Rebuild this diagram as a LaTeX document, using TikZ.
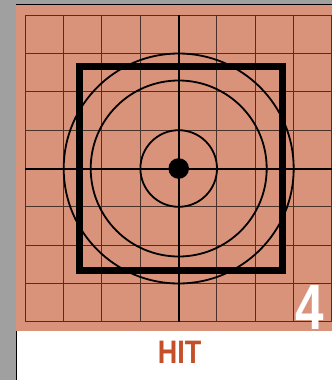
\documentclass[tikz,border=0pt]{standalone}
\usepackage{fontspec}
\setmainfont{Liberation Sans}
\definecolor{salmon}{HTML}{D9937A}
\definecolor{hitred}{HTML}{C4502A}
\definecolor{gridln}{HTML}{4A3228}
\definecolor{edgegray}{HTML}{A0A0A0}

\begin{document}
\begin{tikzpicture}[x=1pt,y=-1pt,gridline/.style = {draw=gridln,line width=1pt},axisline/.style = {draw=black,line width=2pt},ring/.style = {draw=black,line width=1.8pt}]
\useasboundingbox (0,0) rectangle (332,380);
\fill[edgegray] (0,0) rectangle (332,380);
\fill[white] (16,4) rectangle (332,380);
\fill[salmon] (16,4.5) rectangle (332,330.7);
\draw[line width=1pt] (16,4.2) -- (332,4.2);
\draw[line width=1.2pt] (16.2,330.7) -- (16.2,380);
\foreach \i in {0,...,8}
\draw[gridline] (25.3+38.3*\i,15.3) -- (25.3+38.3*\i,321.7);
\foreach \i in {0,...,8}
\draw[gridline] (25.3,15.3+38.3*\i) -- (332,15.3+38.3*\i);
\coordinate (c) at (178.7,168.5);
\coordinate (top) at (178.7,15.3);
\coordinate (bot) at (178.7,321.7);
\coordinate (lft) at (25.3,168.5);
\coordinate (rgt) at (332,168.5);
\draw[axisline] (top) -- (bot);
\draw[axisline] (lft) -- (rgt);
\draw[ring] (c) circle (115pt);
\draw[ring] (c) circle (88pt);
\draw[ring] (c) circle (38.3pt);
\fill (c) circle (10.3pt);
\draw[line width=7pt] (79.6,66) rectangle (282.6,270);
\node (num) [text=white,anchor=base,inner sep=0pt,font=\bfseries\fontsize{64}{64}\selectfont] at (309.5,329.5) {\scalebox{0.8}[1]{4}};
\node (hit) [text=hitred,anchor=base,inner sep=0pt,font=\bfseries\fontsize{32.5}{32.5}\selectfont] at (179.6,363.3) {\scalebox{0.83}[1]{HIT}};
\end{tikzpicture}
\end{document}
